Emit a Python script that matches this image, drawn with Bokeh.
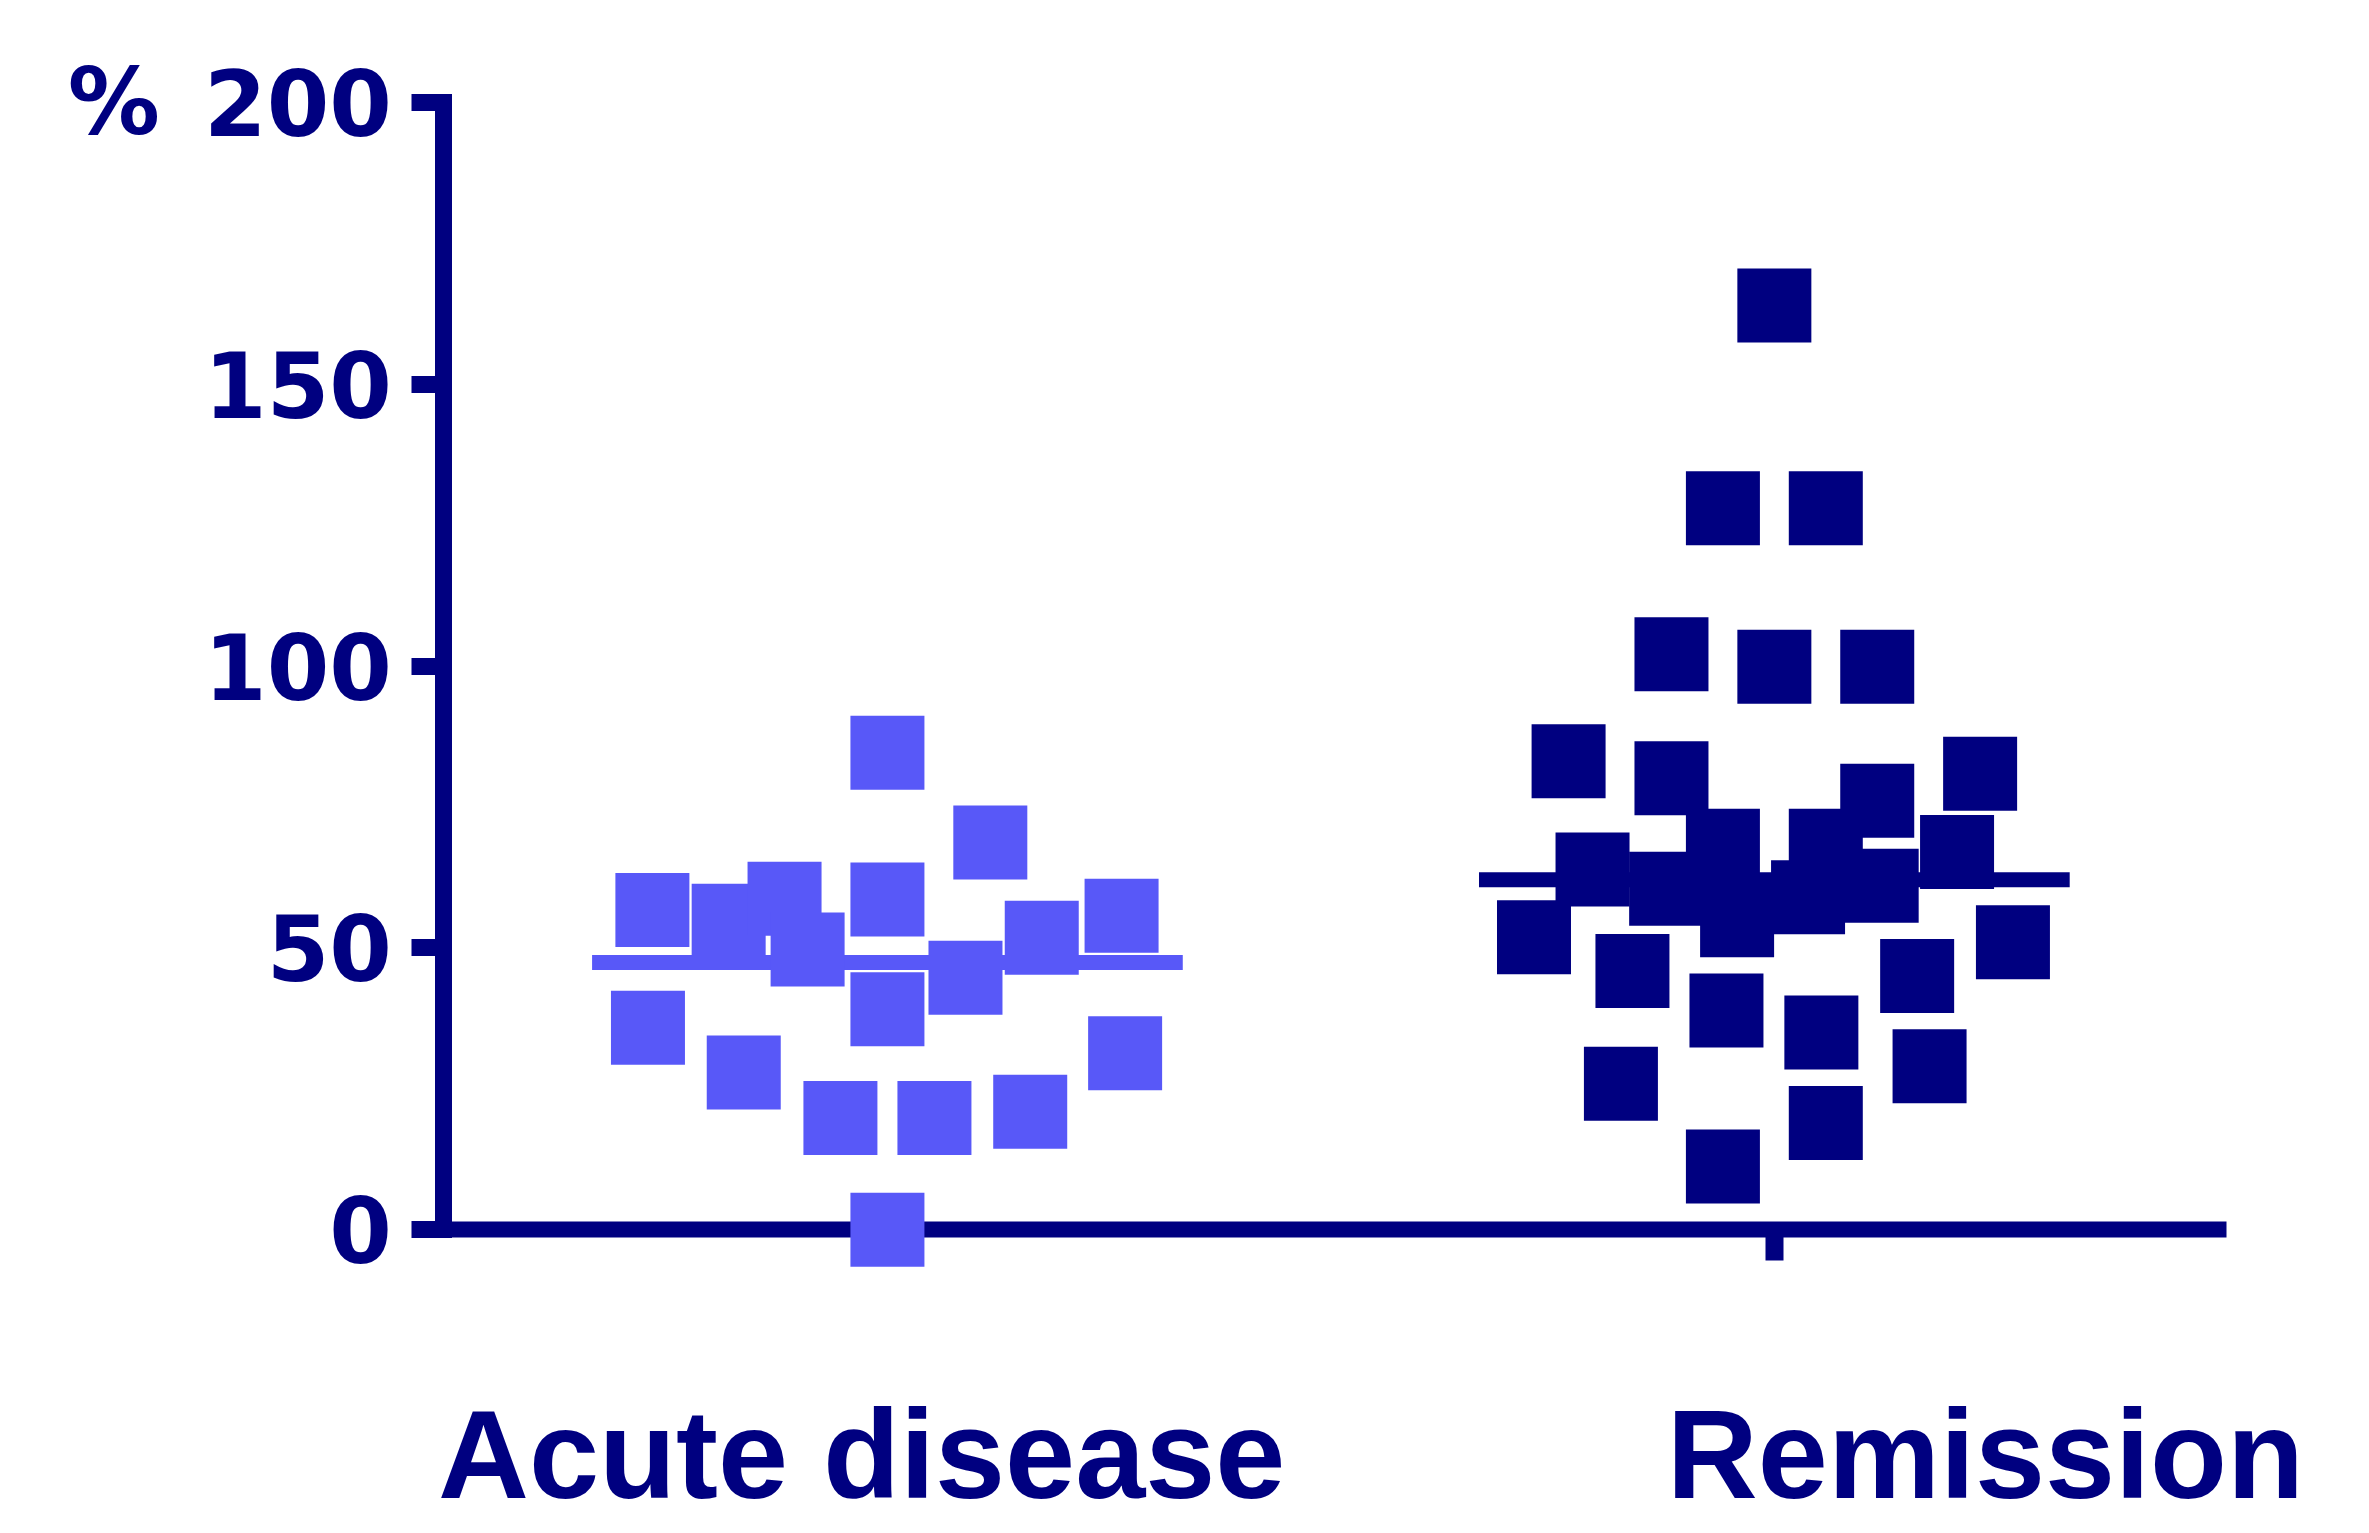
from bokeh.plotting import figure
from bokeh.models import Range1d, LinearAxis, FixedTicker, ColumnDataSource
from bokeh.embed import file_html
from bokeh.resources import INLINE

# ---- data ----
categories = ["Acute disease", "Remission"]
cat_pos = [1, 2]
label_pos = [0.971, 2.238]

acute_values = [84.6, 68.7, 56.7, 54.8, 58.7, 49.7, 58.6, 44.7, 51.8, 55.7,
                35.8, 27.9, 39.1, 19.8, 19.8, 20.9, 31.3, 0.0]
acute_offsets = [0.0, 0.116, -0.265, -0.179, -0.116, -0.090, 0.0, 0.088, 0.174, 0.264,
                 -0.270, -0.162, 0.0, -0.053, 0.053, 0.161, 0.268, 0.0]

remission_values = [164.0, 128.0, 128.0, 102.1, 99.9, 99.9, 83.1, 80.1, 80.9, 76.1,
                    68.1, 68.1, 63.9, 67.0, 60.5, 61.0, 54.9, 59.0, 51.9, 45.9,
                    51.0, 45.0, 38.9, 35.0, 29.0, 25.9, 18.9, 11.2]
remission_offsets = [0.0, -0.058, 0.058, -0.116, 0.0, 0.116, -0.232, -0.116, 0.232, 0.116,
                     -0.058, 0.058, -0.205, 0.206, -0.122, 0.121, -0.042, 0.038, -0.271, -0.160,
                     0.269, 0.161, -0.054, 0.053, 0.175, -0.173, 0.058, -0.058]

medians = [47.4, 62.1]
median_half_width = 0.333

y_ticks = [0, 50, 100, 150, 200]
y_unit = "%"
x_axis_start, x_axis_end = 0.5, 2.51
y_axis_start, y_axis_end = 0, 200

NAVY = "#000080"
LIGHT = "#5858F8"
colors = [LIGHT, NAVY]
XFONT = "Liberation Sans"
YFONT = "DejaVu Sans"

# the frame covers the whole canvas so that the (fixed-location) axes and their labels are never clipped
p = figure(width=2361, height=1525, output_backend="svg", toolbar_location=None,
           x_range=Range1d(0.0, 2.662), y_range=Range1d(-52.5, 218.1),
           x_axis_location=None, y_axis_location=None,
           min_border_left=0, min_border_right=0, min_border_top=0, min_border_bottom=0)
p.outline_line_color = None
p.xgrid.visible = False
p.ygrid.visible = False
p.background_fill_color = "white"
p.border_fill_color = "white"

# median lines
p.segment(x0=[c - median_half_width for c in cat_pos], x1=[c + median_half_width for c in cat_pos],
          y0=medians, y1=medians, line_color=colors, line_width=15)

# squares
acute_src = ColumnDataSource(dict(x=[cat_pos[0] + o for o in acute_offsets], y=acute_values))
rem_src = ColumnDataSource(dict(x=[cat_pos[1] + o for o in remission_offsets], y=remission_values))
p.scatter("x", "y", source=acute_src, marker="square", size=74, fill_color=LIGHT, line_color=None)
p.scatter("x", "y", source=rem_src, marker="square", size=74, fill_color=NAVY, line_color=None)

# y axis
yax = LinearAxis(ticker=FixedTicker(ticks=y_ticks), bounds=(y_axis_start, y_axis_end),
                 fixed_location=x_axis_start)
yax.axis_line_color = NAVY
yax.axis_line_width = 17
yax.axis_line_cap = "square"
yax.major_tick_line_color = NAVY
yax.major_tick_line_width = 17
yax.major_tick_out = 32
yax.major_tick_in = 0
yax.minor_tick_line_color = None
yax.major_label_text_font = YFONT
yax.major_label_text_font_style = "bold"
yax.major_label_text_font_size = "90px"
yax.major_label_text_color = NAVY
yax.major_label_standoff = 20
p.add_layout(yax, "left")

# unit "%" beside the top tick
uax = LinearAxis(ticker=FixedTicker(ticks=[y_ticks[-1]]), fixed_location=x_axis_start,
                 bounds=(y_axis_start, y_axis_end),
                 major_label_overrides={y_ticks[-1]: y_unit})
uax.axis_line_color = None
uax.major_tick_line_color = None
uax.minor_tick_line_color = None
uax.major_tick_out = 0
uax.major_tick_in = 0
uax.major_label_text_font = YFONT
uax.major_label_text_font_style = "bold"
uax.major_label_text_font_size = "92px"
uax.major_label_text_color = NAVY
uax.major_label_standoff = 284
p.add_layout(uax, "left")

# x axis line at y = 0
xax = LinearAxis(ticker=FixedTicker(ticks=cat_pos), fixed_location=y_axis_start,
                 bounds=(x_axis_start, x_axis_end))
xax.axis_line_color = NAVY
xax.axis_line_width = 16
xax.major_tick_line_color = NAVY
xax.major_tick_line_width = 18
xax.major_tick_out = 31
xax.major_tick_in = 0
xax.minor_tick_line_color = None
xax.major_label_text_alpha = 0
xax.major_label_text_font_size = "1px"
xax.level = "underlay"
p.add_layout(xax, "below")

# category labels
lax = LinearAxis(ticker=FixedTicker(ticks=label_pos), fixed_location=y_axis_start,
                 bounds=(x_axis_start, x_axis_end),
                 major_label_overrides={label_pos[i]: categories[i] for i in range(2)})
lax.axis_line_color = None
lax.major_tick_line_color = None
lax.minor_tick_line_color = None
lax.major_tick_out = 0
lax.major_tick_in = 0
lax.major_label_text_font = XFONT
lax.major_label_text_font_style = "bold"
lax.major_label_text_font_size = "126px"
lax.major_label_text_color = NAVY
lax.major_label_standoff = 154
p.add_layout(lax, "below")

open("out.html", "w").write(file_html(p, INLINE))
